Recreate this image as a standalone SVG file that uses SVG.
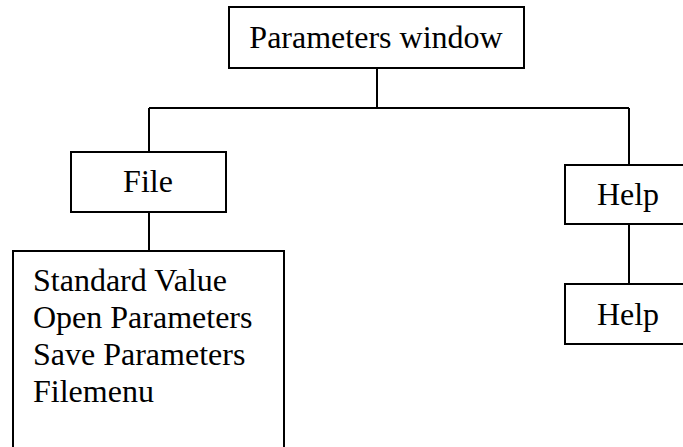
<svg xmlns="http://www.w3.org/2000/svg" width="683" height="447" viewBox="0 0 683 447">
<style>
.box{fill:#fff;stroke:#000;stroke-width:2}
.ln{fill:none;stroke:#000;stroke-width:2}
text{font-family:"Liberation Serif","Times New Roman",serif;font-size:32px;fill:#000}
.c{text-anchor:middle}
</style>
<rect width="683" height="447" fill="#fff"/>
<g id="connectors">
<path class="ln" d="M377 68V108M149 108H629M149 108V152M149 212V251M629 108V165M629 224V284"/>
</g>
<g id="node-parameters">
<rect class="box" x="229" y="7" width="295" height="61"/>
<text class="c" x="376" y="48">Parameters window</text>
</g>
<g id="node-file">
<rect class="box" x="71" y="152" width="155" height="60"/>
<text class="c" x="148" y="192">File</text>
</g>
<g id="node-filemenu">
<rect class="box" x="13" y="251" width="271" height="210"/>
<text x="33" y="291">Standard Value</text>
<text x="33" y="328">Open Parameters</text>
<text x="33" y="365">Save Parameters</text>
<text x="33" y="402">Filemenu</text>
</g>
<g id="node-help1">
<rect class="box" x="565" y="165" width="130" height="59"/>
<text class="c" x="628" y="205">Help</text>
</g>
<g id="node-help2">
<rect class="box" x="565" y="284" width="130" height="60"/>
<text class="c" x="628" y="325">Help</text>
</g>
</svg>
